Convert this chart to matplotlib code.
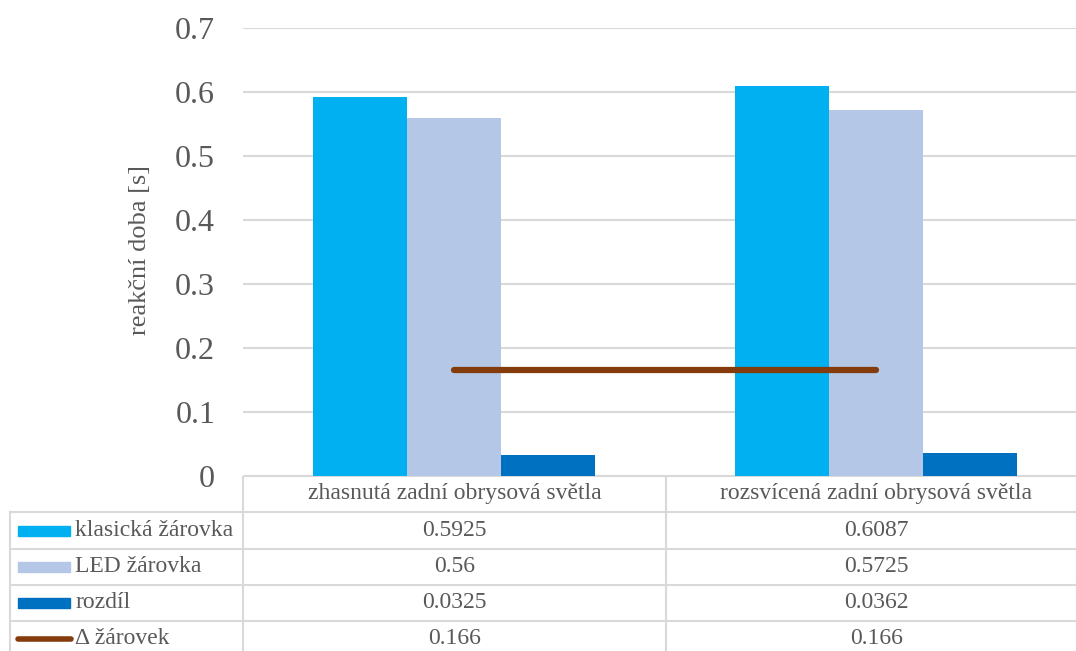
import matplotlib
matplotlib.use("Agg")
import matplotlib.pyplot as plt
import numpy as np

plt.rcParams['font.family'] = ['Liberation Serif', 'DejaVu Serif']

categories = ["zhasnutá zadní obrysová světla", "rozsvícená zadní obrysová světla"]
klasicka = [0.5925, 0.6087]
led = [0.56, 0.5725]
rozdil = [0.0325, 0.0362]
delta = [0.166, 0.166]
series_names = ["klasická žárovka", "LED žárovka", "rozdíl", "Δ žárovek"]
value_labels = [["0.5925", "0.6087"], ["0.56", "0.5725"], ["0.0325", "0.0362"], ["0.166", "0.166"]]
y_ticks = [0, 0.1, 0.2, 0.3, 0.4, 0.5, 0.6, 0.7]

c_klas = "#00B0F0"
c_led = "#B4C7E7"
c_roz = "#0070C0"
c_line = "#843C0C"
grid_c = "#D9D9D9"
text_c = "#595959"

W, H = 1076, 651
fig = plt.figure(figsize=(W / 100, H / 100), dpi=100)

# plot area in pixels (runs a bit past the right edge, as in the source)
left, right, top, bottom = 243, 1087, 28, 476
ax = fig.add_axes([left / W, (H - bottom) / H, (right - left) / W, (bottom - top) / H])
x = np.arange(len(categories))
bw = 0.223
ax.bar(x - bw, klasicka, bw, color=c_klas, zorder=2)
ax.bar(x, led, bw, color=c_led, zorder=2)
ax.bar(x + bw, rozdil, bw, color=c_roz, zorder=2)
ax.plot(x, delta, color=c_line, lw=4.5, solid_capstyle="round", zorder=3)

ax.set_xlim(-0.5, 1.5)
ax.set_ylim(0, 0.7)
ax.set_yticks(y_ticks)
ax.set_yticklabels(["0" if t == 0 else f"{t:.1f}" for t in y_ticks], fontsize=23, color=text_c)
ax.tick_params(axis="y", length=0, pad=20)
ax.set_xticks([])
ax.grid(axis="y", color=grid_c, lw=1.5, zorder=0)
for s in ax.spines.values():
    s.set_visible(False)
fig.text(140 / W, 1 - 250 / H, "reakční doba [s]", rotation=90, ha="center", va="center",
         fontsize=19, color=text_c)

# data table below the plot, drawn in pixel coordinates
tab = fig.add_axes([0, 0, 1, (H - bottom) / H])
tab.set_xlim(0, W)
tab.set_ylim(H, bottom)
tab.axis("off")
rows = [476, 512, 549, 585, 621, 657]
col_x = [10, 243, 666, 1087]
lw_t = 1.5
tab.plot([243, W], [rows[0], rows[0]], color=grid_c, lw=lw_t)
for ry in rows[1:5]:
    tab.plot([10, W], [ry, ry], color=grid_c, lw=lw_t)
tab.plot([10, 10], [rows[1], H], color=grid_c, lw=lw_t)
tab.plot([243, 243], [rows[0], H], color=grid_c, lw=lw_t)
tab.plot([666, 666], [rows[0], H], color=grid_c, lw=lw_t)

centers = [(col_x[1] + col_x[2]) / 2, (col_x[2] + col_x[3]) / 2]
for i, cat in enumerate(categories):
    tab.text(centers[i], (rows[0] + rows[1]) / 2, cat, ha="center", va="center",
             fontsize=17, color=text_c)

key_colors = [c_klas, c_led, c_roz]
for r, name in enumerate(series_names):
    yc = (rows[r + 1] + rows[r + 2]) / 2
    if r < 3:
        tab.add_patch(plt.Rectangle((18, yc - 5), 52, 10, color=key_colors[r]))
    else:
        tab.plot([18, 71], [yc, yc], color=c_line, lw=4, solid_capstyle="round")
    tab.text(75, yc, name, ha="left", va="center", fontsize=17, color=text_c)
    for i in range(2):
        tab.text(centers[i], yc, value_labels[r][i], ha="center", va="center",
                 fontsize=17, color=text_c)

fig.savefig("out.png", dpi=100)
